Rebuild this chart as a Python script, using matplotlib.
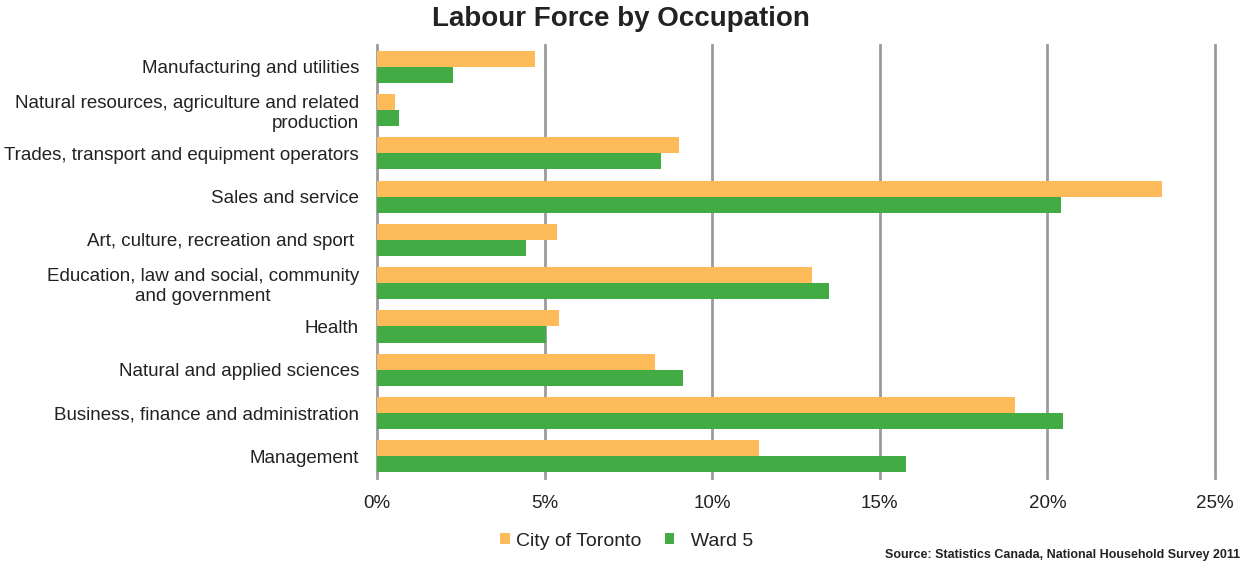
import matplotlib.pyplot as plt
import numpy as np
from matplotlib.ticker import FuncFormatter

plt.rcParams['font.family'] = ['Liberation Sans', 'DejaVu Sans']

# Data (percent of labour force), top to bottom as in the chart
categories = [
    "Manufacturing and utilities",
    "Natural resources, agriculture and related\nproduction",
    "Trades, transport and equipment operators",
    "Sales and service",
    "Art, culture, recreation and sport ",
    "Education, law and social, community\nand government",
    "Health",
    "Natural and applied sciences",
    "Business, finance and administration",
    "Management",
]
toronto = [4.71, 0.54, 9.0, 23.42, 5.37, 12.98, 5.43, 8.29, 19.03, 11.4]
ward5 = [2.27, 0.66, 8.47, 20.4, 4.45, 13.48, 5.04, 9.13, 20.47, 15.78]
xticks = [0, 5, 10, 15, 20, 25]

orange = '#FDBB5A'
green = '#43AB44'

fig = plt.figure(figsize=(12.41, 5.64), dpi=100)
ax = fig.add_axes([0.3038, 0.1525, 0.979 - 0.3038, 0.920 - 0.1525])

y = np.arange(len(categories))
h = 0.37
ax.barh(y - h / 2, toronto, height=h, color=orange, label='City of Toronto', zorder=3)
ax.barh(y + h / 2, ward5, height=h, color=green, label='  Ward 5', zorder=3)

ax.set_ylim(len(categories) - 0.5, -0.5)
ax.set_xlim(0, 25)
ax.set_xticks(xticks)
ax.xaxis.set_major_formatter(FuncFormatter(lambda v, p: f"{v:.0f}%"))
ax.set_yticks(y)
ax.set_yticklabels(categories)
for lbl in ax.get_yticklabels():
    lbl.set_multialignment('right')
ax.get_yticklabels()[5].set_multialignment('center')

ax.tick_params(axis='y', length=0, pad=13, labelsize=13.5, labelcolor='#222222')
ax.tick_params(axis='x', length=0, pad=12, labelsize=13.5, labelcolor='#222222')
ax.grid(axis='x', color='#9a9a9e', linewidth=2, zorder=0)
for gl in ax.get_xgridlines():
    gl.set_clip_on(False)
for s in ax.spines.values():
    s.set_visible(False)

fig.suptitle("Labour Force by Occupation", x=0.5, y=0.99, fontsize=20,
             fontweight='bold', color='#222222')

leg = ax.legend(loc='center', bbox_to_anchor=(627 / 1241, 23 / 564),
                bbox_transform=fig.transFigure, ncol=2, frameon=False,
                fontsize=14, handlelength=0.5, handleheight=0.5,
                handletextpad=0.3, columnspacing=1.2, labelcolor='#222222')

fig.text(0.999, 0.005, "Source: Statistics Canada, National Household Survey 2011",
         ha='right', va='bottom', fontsize=9, fontweight='bold', color='#222222',
         family=['Liberation Sans Narrow', 'Liberation Sans', 'DejaVu Sans'])

fig.savefig("out.png", dpi=100)
